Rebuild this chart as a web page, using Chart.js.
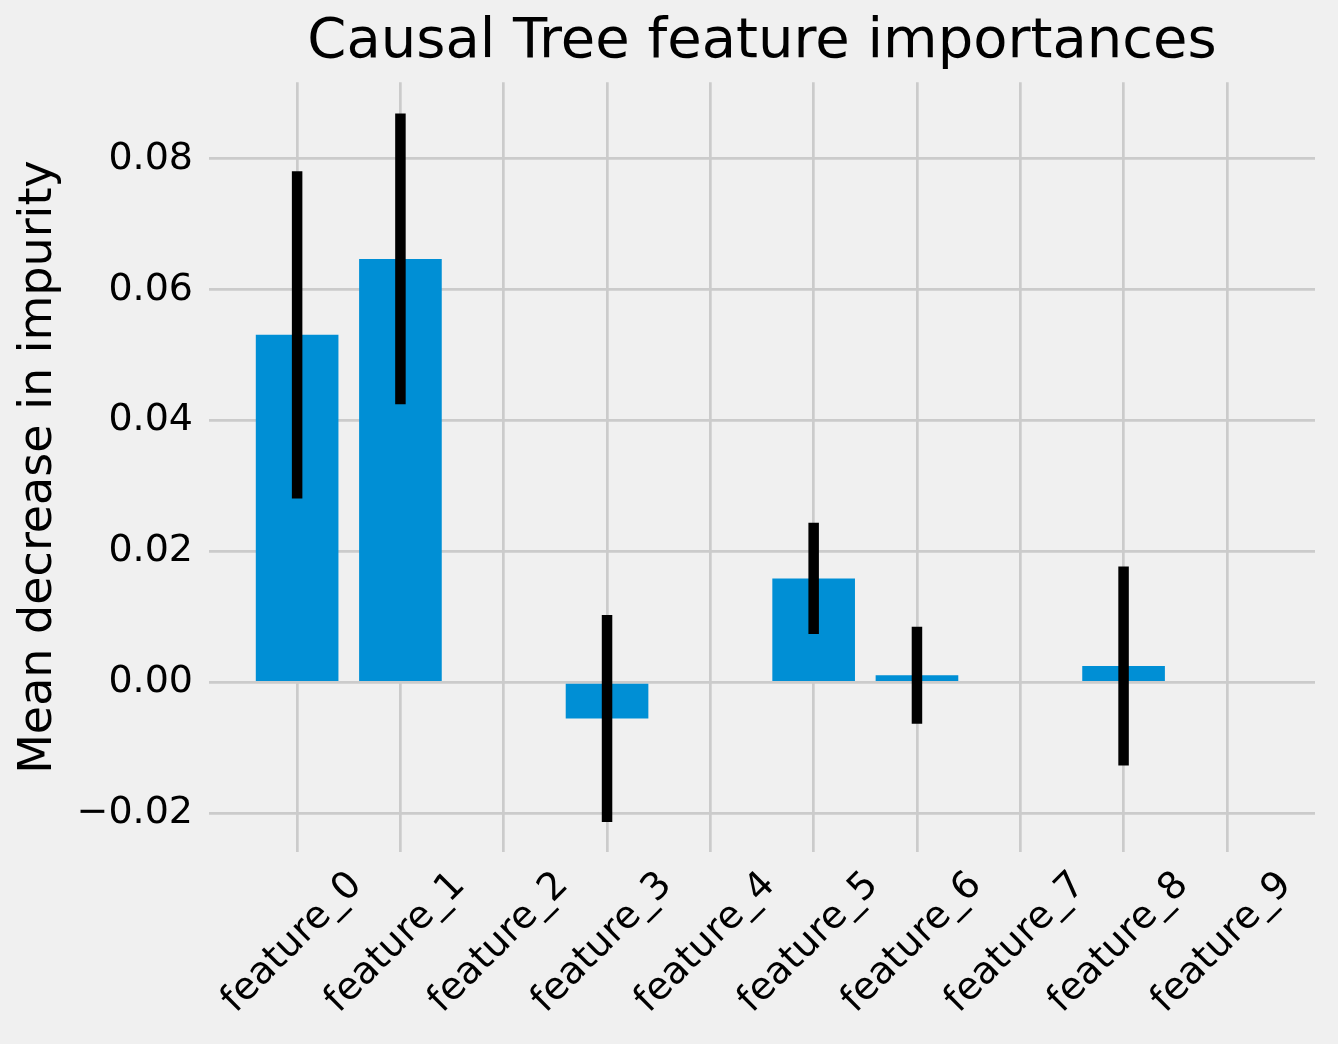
<!DOCTYPE html>
<html>
<head>
<meta charset="utf-8">
<title>Causal Tree feature importances</title>
<script src="https://cdn.jsdelivr.net/npm/chart.js"></script>
<style>
  html, body { margin: 0; padding: 0; background: #f0f0f0; }
  #wrap { width: 1338px; height: 1044px; }
</style>
</head>
<body>
<div id="wrap"><canvas id="chart" width="1338" height="1044"></canvas></div>
<script>
  // Feature names and their importances (mean decrease in impurity) with std error
  const features = ['feature_0', 'feature_1', 'feature_2', 'feature_3', 'feature_4',
                    'feature_5', 'feature_6', 'feature_7', 'feature_8', 'feature_9'];
  const importances = [0.0531, 0.0647, 0, -0.0055, 0, 0.0159, 0.0011, 0, 0.0025, 0];
  const stdErrors = [0.0250, 0.0222, 0, 0.0158, 0, 0.0085, 0.0074, 0, 0.0152, 0];
  const yTicks = [-0.02, 0.00, 0.02, 0.04, 0.06, 0.08];

  const FONT = 'DejaVu Sans';
  Chart.defaults.font.family = FONT;
  Chart.defaults.color = '#000000';

  // Vertical black error bars, no caps (like matplotlib's yerr)
  const errorBarPlugin = {
    id: 'errorBars',
    afterDatasetsDraw: function(chart) {
      const xs = chart.scales.x;
      const ys = chart.scales.y;
      const ctx = chart.ctx;
      ctx.save();
      ctx.strokeStyle = '#000000';
      ctx.lineWidth = 10.5;
      ctx.lineCap = 'butt';
      importances.forEach(function(v, i) {
        const e = stdErrors[i];
        if (!e) return;
        const x = xs.getPixelForValue(i);
        ctx.beginPath();
        ctx.moveTo(x, ys.getPixelForValue(v + e));
        ctx.lineTo(x, ys.getPixelForValue(v - e));
        ctx.stroke();
      });
      ctx.restore();
    }
  };

  const points = importances.map(function(v, i) { return { x: i, y: v }; });

  new Chart(document.getElementById('chart'), {
    type: 'bar',
    data: {
      datasets: [{
        label: 'importance',
        data: points,
        backgroundColor: '#008fd5',
        borderWidth: 0,
        barPercentage: 0.8,
        categoryPercentage: 1.0
      }]
    },
    plugins: [errorBarPlugin],
    options: {
      responsive: false,
      animation: false,
      devicePixelRatio: 1,
      layout: { padding: { left: 0, right: 23, top: 0, bottom: 0 } },
      plugins: {
        legend: { display: false },
        tooltip: { enabled: false },
        title: {
          display: true,
          text: 'Causal Tree feature importances',
          fullSize: false,
          color: '#000000',
          font: { size: 56, weight: 'normal', family: FONT },
          padding: { top: 9, bottom: 6 }
        }
      },
      scales: {
        x: {
          type: 'linear',
          min: -0.853,
          max: 9.853,
          offset: false,
          afterFit: function(scale) { scale.height = 192; },
          grid: { color: '#cbcbcb', lineWidth: 2.7, drawTicks: false, offset: false },
          border: { display: false },
          ticks: {
            stepSize: 1,
            includeBounds: false,
            autoSkip: false,
            minRotation: 45,
            maxRotation: 45,
            labelOffset: 59,
            padding: 11,
            color: '#000000',
            font: { size: 38, family: FONT },
            callback: function(value) { return features[value] || ''; }
          }
        },
        y: {
          min: -0.0259,
          max: 0.0917,
          afterFit: function(scale) { scale.width = 209; },
          grid: { color: '#cbcbcb', lineWidth: 2.7, drawTicks: false },
          border: { display: false },
          afterBuildTicks: function(scale) {
            scale.ticks = yTicks.map(function(v) { return { value: v }; });
          },
          ticks: {
            padding: 16,
            color: '#000000',
            font: { size: 38, family: FONT },
            callback: function(value) {
              const r = Math.round(value * 100);
              return (r < 0 ? '\u2212' : '') + Math.abs(r / 100).toFixed(2);
            }
          },
          title: {
            display: true,
            text: 'Mean decrease in impurity',
            color: '#000000',
            font: { size: 46, family: FONT },
            padding: { top: 11, bottom: 0 }
          }
        }
      }
    }
  });
</script>
</body>
</html>
